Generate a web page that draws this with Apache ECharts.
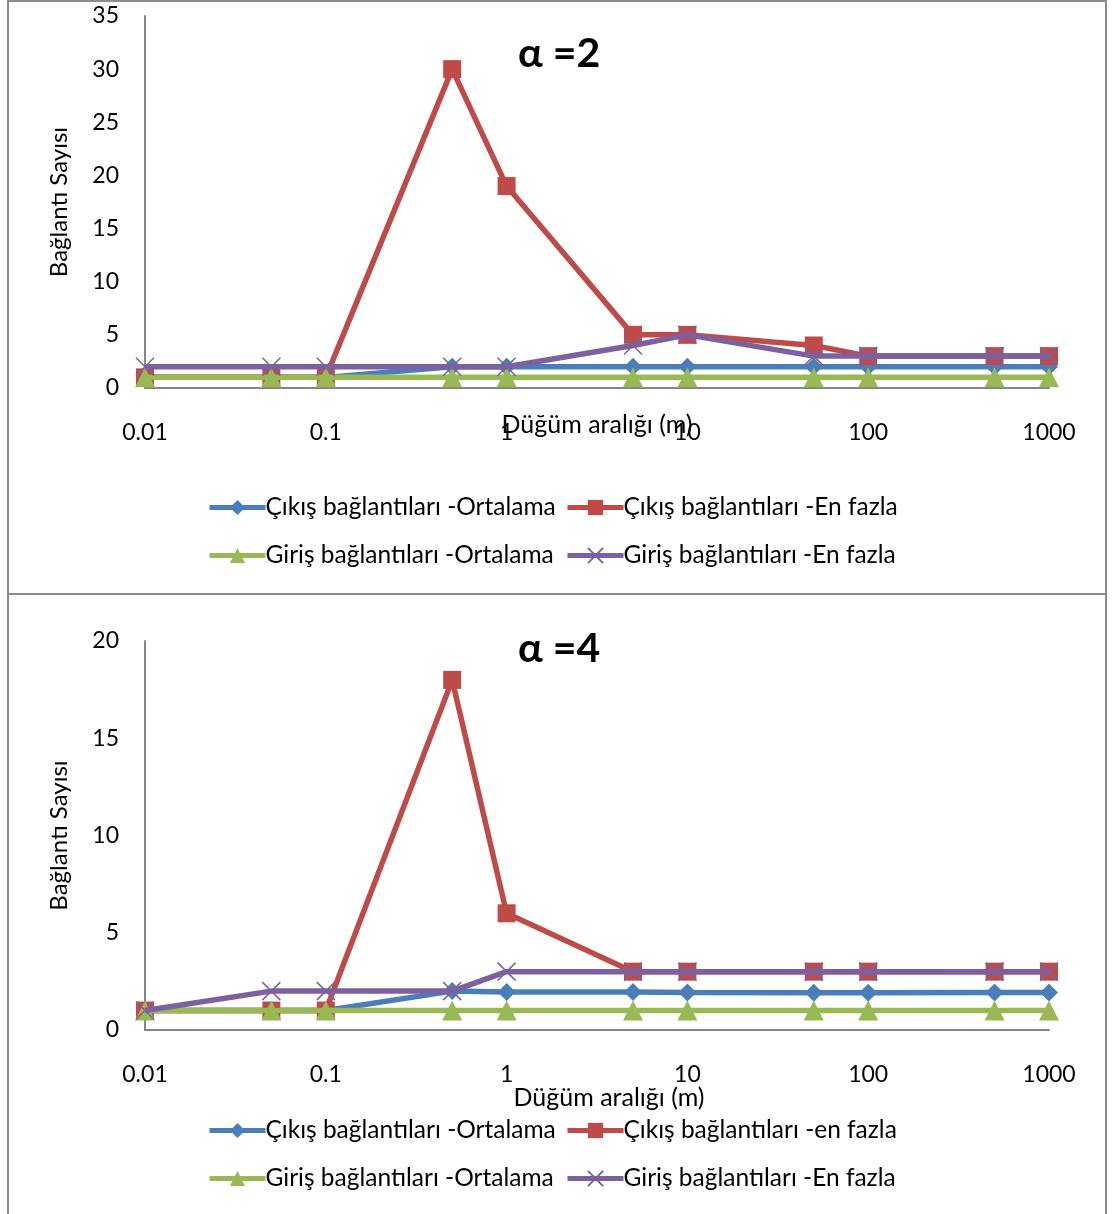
<!DOCTYPE html>
<html><head><meta charset="utf-8">
<script src="https://cdn.jsdelivr.net/npm/echarts@6/dist/echarts.min.js"></script>
<style>html,body{margin:0;padding:0;background:#fff}#c{width:1112px;height:1214px}</style>
</head><body><div id="c"></div>
<script>
const xValues = [0.01, 0.05, 0.1, 0.5, 1, 5, 10, 50, 100, 500, 1000];
const xTickLabels = ['0.01', '0.1', '1', '10', '100', '1000'];
const yTicksTop = [0, 5, 10, 15, 20, 25, 30, 35];
const yTicksBottom = [0, 5, 10, 15, 20];

const top_cikisOrt = [1, 1, 1, 2, 2, 2, 2, 2, 2, 2, 2];
const top_cikisMax = [1, 1, 1, 30, 19, 5, 5, 4, 3, 3, 3];
const top_girisOrt = [1, 1, 1, 1, 1, 1, 1, 1, 1, 1, 1];
const top_girisMax = [2, 2, 2, 2, 2, 4, 5, 3, 3, 3, 3];

const bot_cikisOrt = [1, 1, 1, 2, 1.95, 1.95, 1.93, 1.92, 1.92, 1.93, 1.93];
const bot_cikisMax = [1, 1, 1, 18, 6, 3, 3, 3, 3, 3, 3];
const bot_girisOrt = [1, 1, 1, 1, 1, 1, 1, 1, 1, 1, 1];
const bot_girisMax = [1, 2, 2, 2, 3, 3, 3, 3, 3, 3, 3];

const namesTop = ['Çıkış bağlantıları -Ortalama', 'Çıkış bağlantıları -En fazla', 'Giriş bağlantıları -Ortalama', 'Giriş bağlantıları -En fazla'];
const namesBot = ['Çıkış bağlantıları -Ortalama', 'Çıkış bağlantıları -en fazla', 'Giriş bağlantıları -Ortalama', 'Giriş bağlantıları -En fazla'];
const titles = ['α =2', 'α =4'];
const xName = 'Düğüm aralığı (m)';
const yName = 'Bağlantı Sayısı';

const FONT = 'Lato';
const colors = ['#4A7EBB', '#BE4B48', '#98B954', '#7D60A0'];
const symbols = ['diamond', 'rect', 'triangle', 'path://M0,0 L10,10 M10,0 L0,10'];
const symbolSizes = [18, 18, 20, 18];

function pairs(vals) { return xValues.map((x, i) => [x, vals[i]]); }

function mkSeries(names, data, gi) {
  return names.map((n, k) => ({
    name: n, type: 'line', xAxisIndex: gi, yAxisIndex: gi,
    data: pairs(data[k]),
    symbol: symbols[k], symbolSize: symbolSizes[k],
    lineStyle: { color: colors[k], width: 5.5 },
    itemStyle: k === 3 ? { color: colors[k], borderColor: colors[k], borderWidth: 1.5 } : { color: colors[k], borderWidth: 0 },
    z: 2 + k, animation: false
  }));
}

function mkLegends(names, row1, row2) {
  const pos = [[207, row1], [565, row1], [207, row2], [565, row2]];
  return names.map((n, k) => ({
    data: [n], left: pos[k][0], top: pos[k][1], padding: 0,
    itemWidth: 56, itemHeight: 19, itemGap: 3, selectedMode: false,
    lineStyle: { width: 5 },
    textStyle: { fontFamily: FONT, fontSize: 24.5, color: '#000', padding: [0, 0, 0, -5] }
  }));
}

const axisLineStyle = { show: true, lineStyle: { color: '#868686', width: 2 } };

function xAxis(gi, nameGap, namePad) {
  return {
    type: 'log', logBase: 10, min: 0.01, max: 1000, gridIndex: gi,
    name: xName, nameLocation: 'middle', nameGap: nameGap, nameMoveOverlap: false,
    nameTextStyle: { fontFamily: FONT, fontSize: 25, color: '#000', padding: namePad },
    axisLine: axisLineStyle, axisTick: { show: false }, splitLine: { show: false },
    minorTick: { show: false }, minorSplitLine: { show: false },
    axisLabel: {
      fontFamily: FONT, fontSize: 23, color: '#000', margin: 33,
      formatter: v => { const s = xTickLabels.find(t => Math.abs(parseFloat(t) - v) < 1e-9 * Math.max(1, v)); return s || ''; }
    }
  };
}
function yAxis(gi, ticks) {
  return {
    type: 'value', gridIndex: gi, min: ticks[0], max: ticks[ticks.length - 1], interval: ticks[1] - ticks[0],
    name: yName, nameLocation: 'middle', nameGap: 74, nameRotate: 90, nameMoveOverlap: false,
    nameTextStyle: { fontFamily: FONT, fontSize: 24, color: '#000' },
    axisLine: axisLineStyle, axisTick: { show: false }, splitLine: { show: false },
    axisLabel: { fontFamily: FONT, fontSize: 23, color: '#000', margin: 26 }
  };
}

const option = {
  backgroundColor: '#fff',
  animation: false,
  title: [
    { text: titles[0], left: 513, top: 28, textStyle: { fontFamily: FONT, fontSize: 41, fontWeight: 'bold', color: '#000' } },
    { text: titles[1], left: 513, top: 623, textStyle: { fontFamily: FONT, fontSize: 41, fontWeight: 'bold', color: '#000' } }
  ],
  grid: [
    { left: 145, top: 16, width: 904, height: 372 },
    { left: 145, top: 641, width: 904, height: 389 }
  ],
  xAxis: [xAxis(0, 24, [0, 0, 0, 0]), xAxis(1, 55, [0, 0, 0, 24])],
  yAxis: [yAxis(0, yTicksTop), yAxis(1, yTicksBottom)],
  legend: mkLegends(namesTop, 495, 543).concat(mkLegends(namesBot, 1118, 1166)),
  series: mkSeries(namesTop, [top_cikisOrt, top_cikisMax, top_girisOrt, top_girisMax], 0)
    .concat(mkSeries(namesBot, [bot_cikisOrt, bot_cikisMax, bot_girisOrt, bot_girisMax], 1)),
  graphic: [
    { type: 'rect', shape: { x: 8, y: 1, width: 1098, height: 593 }, style: { fill: 'none', stroke: '#8c8c8c', lineWidth: 2 }, silent: true, z: -1 },
    { type: 'rect', shape: { x: 8, y: 594, width: 1098, height: 640 }, style: { fill: 'none', stroke: '#8c8c8c', lineWidth: 2 }, silent: true, z: -1 }
  ]
};
const chart = echarts.init(document.getElementById('c'), null, { renderer: 'canvas' });
chart.setOption(option);
</script></body></html>
